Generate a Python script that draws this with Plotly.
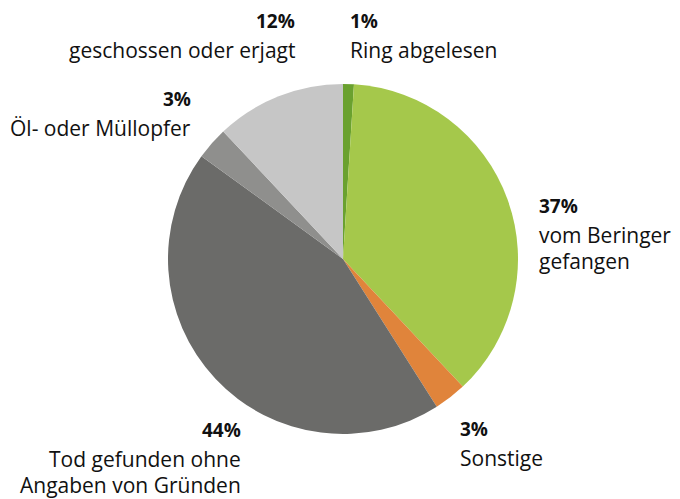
import plotly.graph_objects as go

W, H = 680, 499
labels = ["Ring abgelesen", "vom Beringer gefangen", "Sonstige",
          "Tod gefunden ohne Angaben von Gründen", "Öl- oder Müllopfer",
          "geschossen oder erjagt"]
values = [1, 37, 3, 44, 3, 12]
pct_text = ["1%", "37%", "3%", "44%", "3%", "12%"]
label_lines = [["Ring abgelesen"], ["vom Beringer", "gefangen"], ["Sonstige"],
               ["Tod gefunden ohne", "Angaben von Gründen"], ["Öl- oder Müllopfer"],
               ["geschossen oder erjagt"]]
colors = ["#6aa12f", "#a5c84b", "#e0843b", "#6b6b69", "#8f8f8d", "#c6c6c6"]

# label layout (pixel positions of first line, alignment)
label_pos = [(348, 21, "left"), (537, 206, "left"), (458, 429, "left"),
             (243, 430, "right"), (193, 99, "right"), (297, 21, "right")]

cx, cy, r = 343, 259, 175

fig = go.Figure(go.Pie(
    labels=labels, values=values, sort=False, direction="clockwise",
    rotation=0, marker=dict(colors=colors, line=dict(width=0)),
    textinfo="none", hoverinfo="label+percent", showlegend=False,
    domain=dict(x=[(cx - r) / W, (cx + r) / W], y=[(H - cy - r) / H, (H - cy + r) / H]),
))

FONT = "Open Sans"
SIZE = 21
step = 29
anns = []
for pt, lines, (px, py, al) in zip(pct_text, label_lines, label_pos):
    xa = "left" if al == "left" else "right"
    anns.append(dict(x=px / W, y=1 - py / H, xref="paper", yref="paper",
                     text="<b>" + pt + "</b>", showarrow=False, xanchor=xa,
                     yanchor="middle", font=dict(family=FONT, size=SIZE - 2, color="#111111")))
    for i, ln in enumerate(lines):
        anns.append(dict(x=px / W, y=1 - (py + step * (i + 1) - (3 if i else 0)) / H,
                         xref="paper", yref="paper",
                         text=ln, showarrow=False, xanchor=xa, yanchor="middle",
                         font=dict(family=FONT, size=SIZE, color="#111111")))

fig.update_layout(width=W, height=H, margin=dict(l=0, r=0, t=0, b=0),
                  paper_bgcolor="white", plot_bgcolor="white", annotations=anns)
fig.write_html("out.html", config={"displayModeBar": False},
               post_script="document.body.style.margin='0';document.body.style.padding='0';")
